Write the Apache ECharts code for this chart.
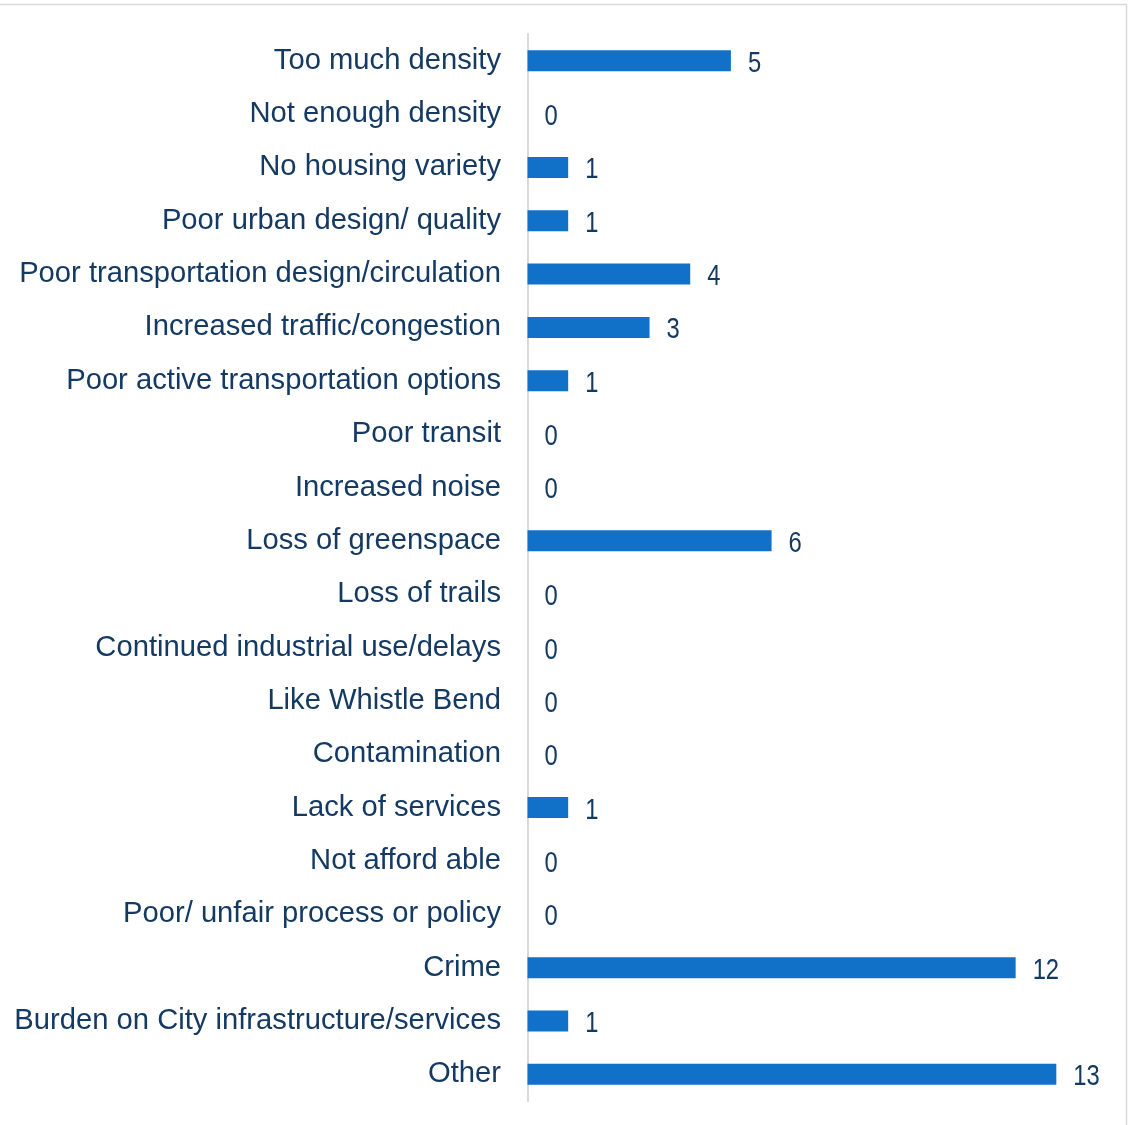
<!DOCTYPE html>
<html>
<head>
<meta charset="utf-8">
<script src="https://cdn.jsdelivr.net/npm/echarts@6/dist/echarts.min.js"></script>
<style>
  html, body { margin: 0; padding: 0; background: #ffffff; }
  #chart { width: 1129px; height: 1125px; }
</style>
</head>
<body>
<div id="chart"></div>
<script>
// Reported concerns and how many responses mentioned each
const categories = [
  'Too much density',
  'Not enough density',
  'No housing variety',
  'Poor urban design/ quality',
  'Poor transportation design/circulation',
  'Increased traffic/congestion',
  'Poor active transportation options',
  'Poor transit',
  'Increased noise',
  'Loss of greenspace',
  'Loss of trails',
  'Continued industrial use/delays',
  'Like Whistle Bend',
  'Contamination',
  'Lack of services',
  'Not afford able',
  'Poor/ unfair process or policy',
  'Crime',
  'Burden on City infrastructure/services',
  'Other'
];
const counts = [5, 0, 1, 1, 4, 3, 1, 0, 0, 6, 0, 0, 0, 0, 1, 0, 0, 12, 1, 13];

const TEXT_COLOR = '#143a64';
const chart = echarts.init(document.getElementById('chart'), null, { renderer: 'canvas' });

chart.setOption({
  animation: false,
  backgroundColor: '#ffffff',
  graphic: [{
    type: 'rect',
    shape: { x: -10, y: 4.5, width: 1136.5, height: 1140 },
    style: { fill: 'none', stroke: '#d9d9d9', lineWidth: 1.5 },
    silent: true
  }],
  grid: { left: 527.5, right: 32, top: 34, bottom: 24, containLabel: false },
  xAxis: {
    type: 'value',
    min: 0,
    max: 14,
    show: false
  },
  yAxis: {
    type: 'category',
    data: categories,
    inverse: true,
    axisLine: { show: true, lineStyle: { color: '#d9d9d9', width: 2 } },
    axisTick: { show: false },
    splitLine: { show: false },
    axisLabel: {
      margin: 26.5,
      fontFamily: '"Liberation Sans", Arial, sans-serif',
      fontSize: 29.2,
      color: TEXT_COLOR
    }
  },
  series: [{
    type: 'bar',
    data: counts,
    barWidth: 21,
    itemStyle: { color: '#1170c8' }
  }, {
    // value labels in a condensed face, placed just past each bar end
    type: 'custom',
    data: counts.map((v, i) => [v, i]),
    encode: { x: 0, y: 1 },
    z: 3,
    renderItem: function (params, api) {
      const p = api.coord([api.value(0), api.value(1)]);
      return {
        type: 'text',
        x: p[0] + 17,
        y: p[1] + 3,
        scaleX: 0.82,
        style: {
          text: String(api.value(0)),
          font: '29px "Liberation Sans", Arial, sans-serif',
          fill: TEXT_COLOR,
          align: 'left',
          verticalAlign: 'middle'
        }
      };
    }
  }]
});
</script>
</body>
</html>
